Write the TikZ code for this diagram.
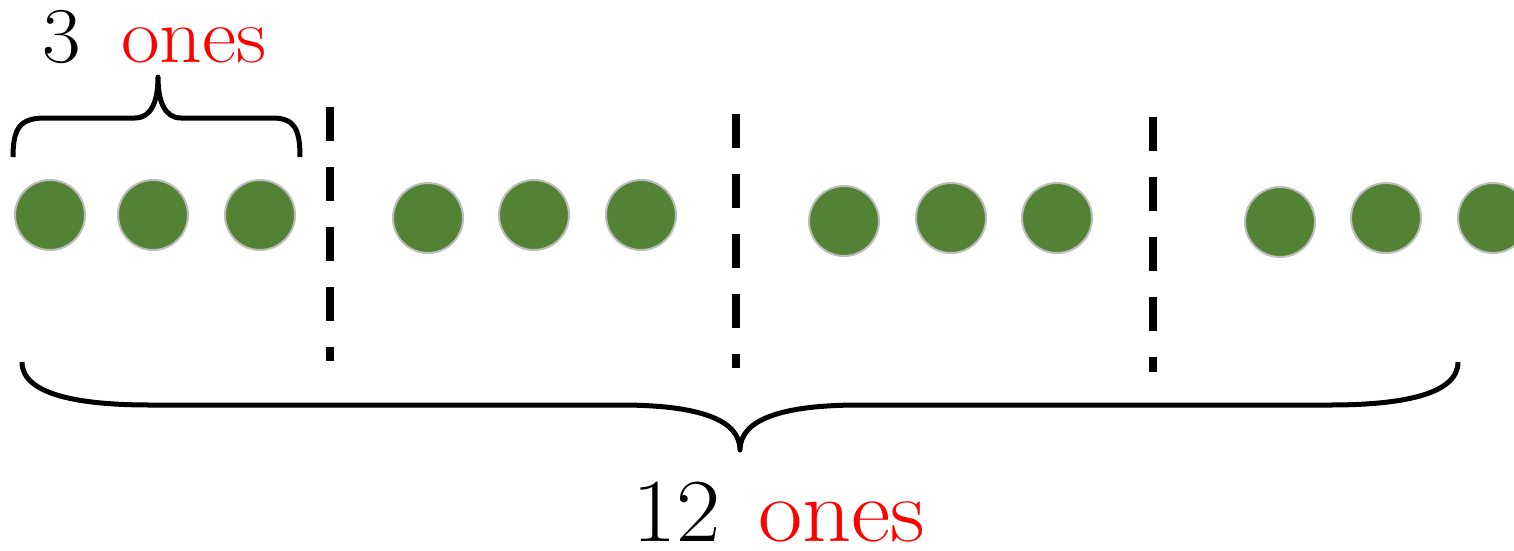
\documentclass[tikz,border=0pt]{standalone}
\usepackage{xcolor}
\definecolor{dotgreen}{HTML}{548235}
\definecolor{dotrim}{HTML}{BDBDBD}
\begin{document}
\begin{tikzpicture}[x=1pt,y=-1pt,
  dot/.style={circle,minimum size=70pt,inner sep=0pt,fill=dotgreen,draw=dotrim,line width=2pt},
  divider/.style={line width=8pt,dash pattern=on 34pt off 26pt},
  bracepath/.style={line width=5pt,line join=round},
  bigtxt/.style={font=\fontsize{90}{92}\selectfont,inner sep=0pt,anchor=base west,xscale=1.07,transform shape},
  smalltxt/.style={font=\fontsize{79}{81}\selectfont,inner sep=0pt,anchor=base west,xscale=1.06,transform shape}]
\useasboundingbox (0,0) rectangle (1514,551);
\clip (0,0) rectangle (1514,551);
% dots
\node[dot] (d1) at (50,215) {};
\node[dot] (d2) at (153,215) {};
\node[dot] (d3) at (260,215) {};
\node[dot] (d4) at (428,218) {};
\node[dot] (d5) at (534,215) {};
\node[dot] (d6) at (641,215) {};
\node[dot] (d7) at (844,221) {};
\node[dot] (d8) at (951,218) {};
\node[dot] (d9) at (1057,218) {};
\node[dot] (d10) at (1280,222) {};
\node[dot] (d11) at (1386,218) {};
\node[dot] (d12) at (1493,218) {};
% dividers
\coordinate (v1a) at (330,107); \coordinate (v1b) at (330,361);
\coordinate (v2a) at (736,114); \coordinate (v2b) at (736,368);
\coordinate (v3a) at (1153,117); \coordinate (v3b) at (1153,372);
\draw[divider] (v1a) -- (v1b);
\draw[divider] (v2a) -- (v2b);
\draw[divider] (v3a) -- (v3b);
% top brace
\draw[bracepath] (13,157) .. controls (13,128) and (20,118) .. (45,118) -- (135,118)
  .. controls (152,118) and (158,100) .. (158,77)
  .. controls (158,100) and (164,118) .. (181,118) -- (272,118)
  .. controls (294,118) and (300,128) .. (300,157);
% bottom brace
\draw[bracepath] (22,362) .. controls (22,395) and (80,405) .. (150,405) -- (620,405)
  .. controls (700,405) and (740,420) .. (740,450)
  .. controls (740,420) and (780,405) .. (860,405) -- (1330,405)
  .. controls (1400,405) and (1458,395) .. (1458,362);
% labels
\node[smalltxt] (t3) at (42,63) {3};
\node[smalltxt,text=red] (t3o) at (121,63) {ones};
\node[bigtxt] (t12) at (632,541) {12};
\node[bigtxt,text=red] (t12o) at (758,541) {ones};
\end{tikzpicture}
\end{document}
